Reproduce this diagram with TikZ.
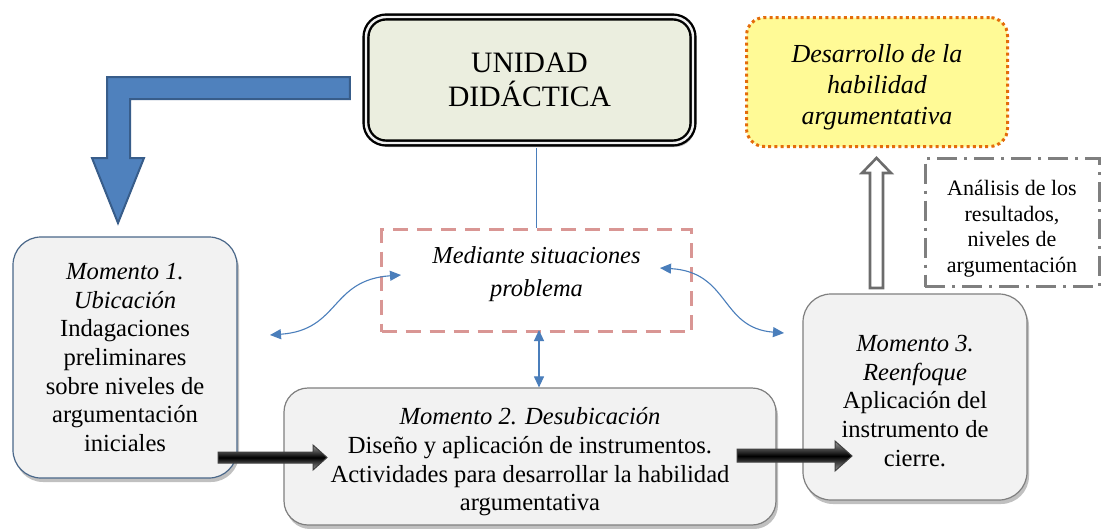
\documentclass[tikz,border=0pt]{standalone}
\usepackage{fontspec}
\setmainfont{Liberation Serif}
\usetikzlibrary{arrows.meta,shadows,calc}
\definecolor{bluefill}{HTML}{4F81BD}
\definecolor{blueline}{HTML}{385D8A}
\definecolor{boxfill}{HTML}{F2F2F2}
\definecolor{unifill}{HTML}{EBEEDF}
\definecolor{yellowfill}{RGB}{255,250,150}
\definecolor{orangeline}{HTML}{E46C0A}
\definecolor{pinkline}{HTML}{D99694}
\definecolor{grayline}{HTML}{7F7F7F}
\definecolor{curveblue}{HTML}{4A7EBB}
\definecolor{m1line}{HTML}{4A6789}
\begin{document}
\begin{tikzpicture}[x=1pt,y=-1pt,
  bodytext/.style={font=\fontsize{24.6pt}{28.6pt}\selectfont},
  softshadow/.style={drop shadow={shadow xshift=2pt,shadow yshift=-4pt,opacity=0.35,fill=black!70}},
  momento/.style={bodytext,draw=grayline,fill=boxfill,rounded corners=28pt,align=center,inner sep=0pt,line width=1.2pt,softshadow},
  unibox/.style={draw=black,line width=2.4pt,double=white!88!gray,double distance=2.4pt,fill=unifill,rounded corners=20pt,align=center,inner sep=0pt,
     font=\fontsize{29.6pt}{34pt}\selectfont,softshadow},
  desbox/.style={draw=orangeline,line width=3pt,dash pattern=on 3pt off 3.2pt,fill=yellowfill,rounded corners=18pt,align=center,inner sep=0pt,
     font=\fontsize{26pt}{31pt}\selectfont\itshape},
  anabox/.style={draw=grayline,line width=3pt,dash pattern=on 20pt off 7pt on 3pt off 7pt,fill=white,align=center,inner sep=0pt,
     font=\fontsize{22pt}{25.6pt}\selectfont},
  medbox/.style={draw=pinkline,line width=3pt,dash pattern=on 15pt off 9pt,fill=white,align=center,inner sep=0pt,
     font=\fontsize{24.4pt}{33pt}\selectfont\itshape},
  bluecurve/.style={draw=curveblue,line width=1.1pt,{Triangle[length=11pt,width=10pt]}-{Triangle[length=11pt,width=10pt]}},
  blockblue/.style={fill=bluefill,draw=blueline,line width=2pt,line join=miter},
  blockblack/.style={top color=gray!80,bottom color=gray!80,middle color=black,draw=black!75,line width=1pt},
  hollowgray/.style={fill=white,draw=grayline!85!black,line width=2.6pt,line join=miter}
]
\useasboundingbox (0,0) rectangle (1102,528);
\fill[white] (0,0) rectangle (1102,528);

% boxes
\node[unibox,minimum width=327pt,minimum height=126pt] (u) at (529.5,80) {UNIDAD\\DIDÁCTICA};
\node[desbox,minimum width=261pt,minimum height=129pt] (d) at (877,82) {\rule{0pt}{28pt}Desarrollo de la\\habilidad\\argumentativa};
\node[anabox,minimum width=174pt,minimum height=128pt] (a) at (1012,222.5) {\rule{0pt}{28pt}Análisis de los\\resultados,\\niveles de\\argumentación};
\node[medbox,minimum width=310pt,minimum height=102pt,text depth=18pt] (m) at (536.5,280.5) {Mediante situaciones\\problema};
\node[momento,draw=m1line,minimum width=224pt,minimum height=241pt] (m1) at (125,357.5)
  {\textit{Momento 1.}\\\textit{Ubicación}\\Indagaciones\\preliminares\\sobre niveles de\\argumentación\\iniciales};
\node[momento,rounded corners=24pt,minimum width=492pt,minimum height=137pt] (m2) at (530,456.5)
  {\rule{0pt}{28pt}\textit{Momento 2. Desubicación}\\Diseño y aplicación de instrumentos.\\Actividades para desarrollar la habilidad\\argumentativa};
\node[momento,minimum width=224pt,minimum height=206pt] (m3) at (915,397)
  {\rule{0pt}{24pt}\textit{Momento 3.}\\\textit{Reenfoque}\\Aplicación del\\instrumento de\\cierre.};

% blue bent block arrow from UNIDAD to Momento 1
\draw[blockblue] ($(u.west)+(-15,-3)$) -- (107,77) -- (107,158) -- (92,158) -- (118,223) -- (144,158) -- (130,158) -- (130,99) -- ($(u.west)+(-15,19)$) -- cycle;

% thin line UNIDAD -> Mediante
\draw[curveblue,line width=1.1pt] (m.north |- u.south) ++(0,4) -- (m.north);

% curved double arrows
\coordinate (cl) at (270,335);
\coordinate (cli) at (401,275);
\coordinate (cri) at (660,268);
\coordinate (cr) at (784,333);
\draw[bluecurve] (cl) .. controls (340,330) and (330,280) .. (cli);
\draw[bluecurve] (cri) .. controls (730,272) and (720,328) .. (cr);
\draw[bluecurve] ([xshift=2.5pt,yshift=3pt]m.south) -- ([xshift=2.5pt]m.south |- m2.north);

% black block arrows
\draw[blockblack] (218,452) -- (313,452) -- (313,445) -- (327,457.5) -- (313,470) -- (313,463) -- (218,463) -- cycle;
\draw[blockblack] (737,449) -- (835,449) -- (835,441) -- (852,456) -- (835,471) -- (835,462) -- (737,462) -- cycle;

% hollow gray up arrow Momento 3 -> Desarrollo
\draw[hollowgray] (870,288) -- (870,173) -- (862,173) -- (876.5,158) -- (891,173) -- (883,173) -- (883,288) -- cycle;
\end{tikzpicture}
\end{document}
